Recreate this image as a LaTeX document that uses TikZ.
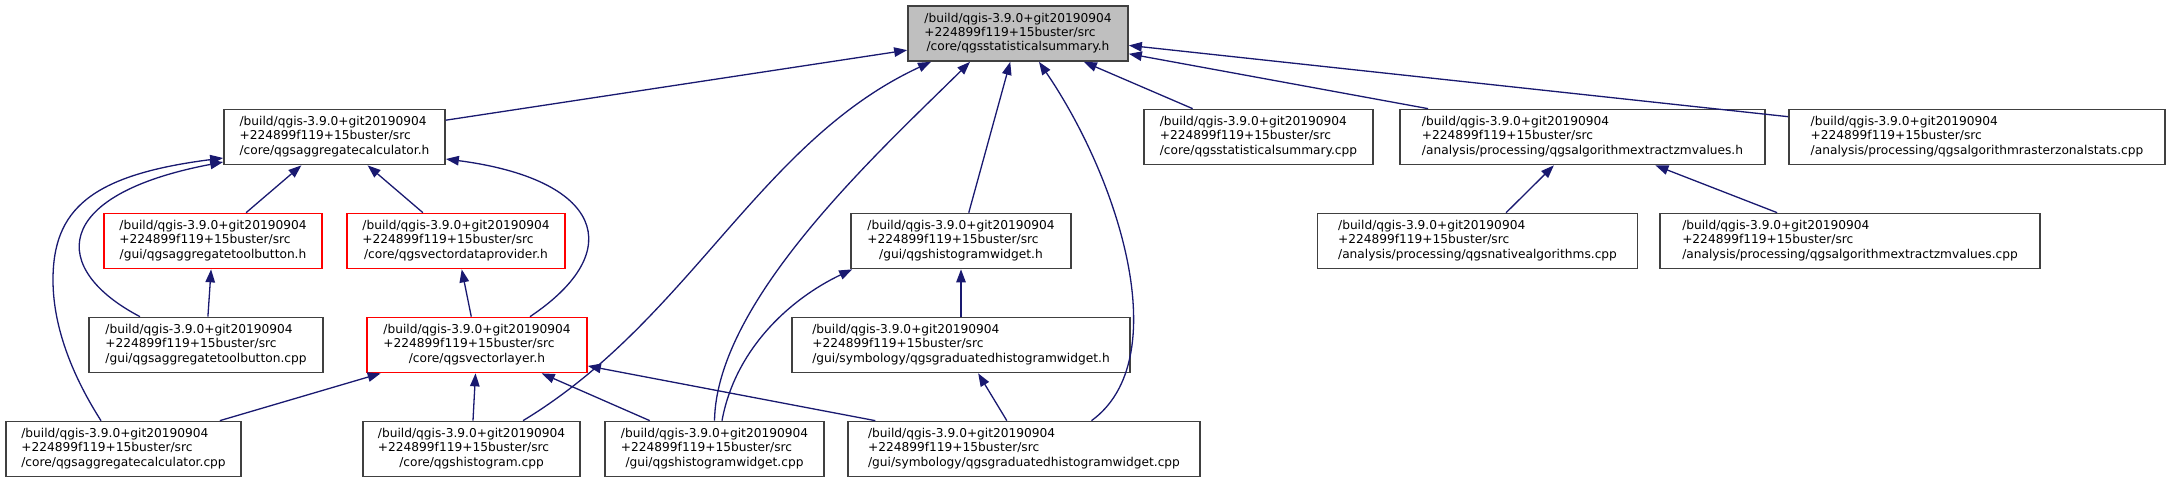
\documentclass[tikz,border=0pt]{standalone}
\usepackage{fontspec}
\setmainfont{DejaVu Sans}
\usetikzlibrary{arrows.meta}

\definecolor{edgeblue}{RGB}{25,25,112}
\definecolor{maingray}{RGB}{191,191,191}

% three line file label, last line centered
\newcommand{\qgsfile}[1]{\begin{tabular}{@{}l@{}}/build/qgis-3.9.0+git20190904\\+224899f119+15buster/src\\\multicolumn{1}{@{}c@{}}{#1}\end{tabular}}

\begin{document}
\begin{tikzpicture}[
    x=1pt, y=-1pt,
    file/.style={rectangle, draw=black!75, line width=1.7pt, fill=white, inner sep=2pt, minimum height=55pt, font=\fontsize{12.2}{14.2}\selectfont},
    redfile/.style={file, draw=red},
    mainfile/.style={file, fill=maingray},
    dep/.style={draw=edgeblue, line width=1.3pt, -{Triangle[length=13pt, width=9.5pt]}}
]
\useasboundingbox (0,0) rectangle (2171,483);

\node (statsum) [mainfile, minimum width=220pt] at (1018,33.5) {\qgsfile{/core/qgsstatisticalsummary.h}};

\node (aggcalch) [file, minimum width=221pt] at (334.5,137) {\qgsfile{/core/qgsaggregatecalculator.h}};
\node (statsumcpp) [file, minimum width=229pt] at (1258.5,137) {\qgsfile{/core/qgsstatisticalsummary.cpp}};
\node (extractzmh) [file, minimum width=365pt] at (1582.5,137) {\qgsfile{/analysis/processing/qgsalgorithmextractzmvalues.h}};
\node (zonalcpp) [file, minimum width=376pt] at (1977,137) {\qgsfile{/analysis/processing/qgsalgorithmrasterzonalstats.cpp}};

\node (toolbuttonh) [redfile, minimum width=218pt] at (213,241) {\qgsfile{/gui/qgsaggregatetoolbutton.h}};
\node (vdph) [redfile, minimum width=218pt] at (456,241) {\qgsfile{/core/qgsvectordataprovider.h}};
\node (histwidgeth) [file, minimum width=220pt] at (961,241) {\qgsfile{/gui/qgshistogramwidget.h}};
\node (nativecpp) [file, minimum width=320pt] at (1477.5,241) {\qgsfile{/analysis/processing/qgsnativealgorithms.cpp}};
\node (extractzmcpp) [file, minimum width=380pt] at (1850,241) {\qgsfile{/analysis/processing/qgsalgorithmextractzmvalues.cpp}};

\node (toolbuttoncpp) [file, minimum width=234pt] at (206,345) {\qgsfile{/gui/qgsaggregatetoolbutton.cpp}};
\node (vlayerh) [redfile, minimum width=220pt] at (477,345) {\qgsfile{/core/qgsvectorlayer.h}};
\node (gradhisth) [file, minimum width=338pt] at (961,345) {\qgsfile{/gui/symbology/qgsgraduatedhistogramwidget.h}};

\node (aggcalccpp) [file, minimum width=235pt] at (123.5,449) {\qgsfile{/core/qgsaggregatecalculator.cpp}};
\node (histogramcpp) [file, minimum width=217pt] at (471.5,449) {\qgsfile{/core/qgshistogram.cpp}};
\node (histwidgetcpp) [file, minimum width=219pt] at (714.5,449) {\qgsfile{/gui/qgshistogramwidget.cpp}};
\node (gradhistcpp) [file, minimum width=352pt] at (1024,449) {\qgsfile{/gui/symbology/qgsgraduatedhistogramwidget.cpp}};

% straight edges
\draw [dep] (aggcalch) -- (statsum);
\draw [dep] (statsumcpp) -- (statsum);
\draw [dep] (extractzmh) -- (statsum);
\draw [dep] (zonalcpp) -- (statsum);
\draw [dep] (histwidgeth) -- (statsum);
\draw [dep] (toolbuttonh) -- (aggcalch);
\draw [dep] (vdph) -- (aggcalch);
\draw [dep] (toolbuttoncpp) -- (toolbuttonh);
\draw [dep] (vlayerh) -- (vdph);
\draw [dep] (gradhisth) -- (histwidgeth);
\draw [dep] (nativecpp) -- (extractzmh);
\draw [dep] (extractzmcpp) -- (extractzmh);
\draw [dep] (aggcalccpp) -- (vlayerh);
\draw [dep] (histogramcpp) -- (vlayerh);
\draw [dep] (histwidgetcpp) -- (vlayerh);
\draw [dep] (gradhistcpp) -- (vlayerh);
\draw [dep] (gradhistcpp) -- (gradhisth);

% curved edges
\draw [dep] ([xshift=51.5pt]histogramcpp.north) .. controls +(167,-101) and +(-171,79) .. ([xshift=-87pt]statsum.south);
\draw [dep] (histwidgetcpp.north) .. controls +(2,-121) and +(-90,89) .. ([xshift=-48pt]statsum.south);
\draw [dep] ([xshift=7.5pt]histwidgetcpp.north) .. controls +(13,-71) and +(-63,30) .. ([xshift=2pt]histwidgeth.south west);
\draw [dep] ([xshift=67.5pt]gradhistcpp.north) .. controls +(84,-61) and +(81,119) .. ([xshift=21pt]statsum.south);
\draw [dep] ([xshift=53pt]vlayerh.north) .. controls +(100,-67) and +(154,20) .. ([yshift=-22pt]aggcalch.east);
\draw [dep] ([xshift=-66pt]toolbuttoncpp.north) .. controls +(-90,-47) and +(-174,33) .. ([yshift=-25pt]aggcalch.west);
\draw [dep] ([xshift=-22.5pt]aggcalccpp.north) .. controls (75,380) and (53,330) .. (53,280) .. controls (53,210) and (90,175) .. ([yshift=-21pt]aggcalch.west);
\end{tikzpicture}
\end{document}
